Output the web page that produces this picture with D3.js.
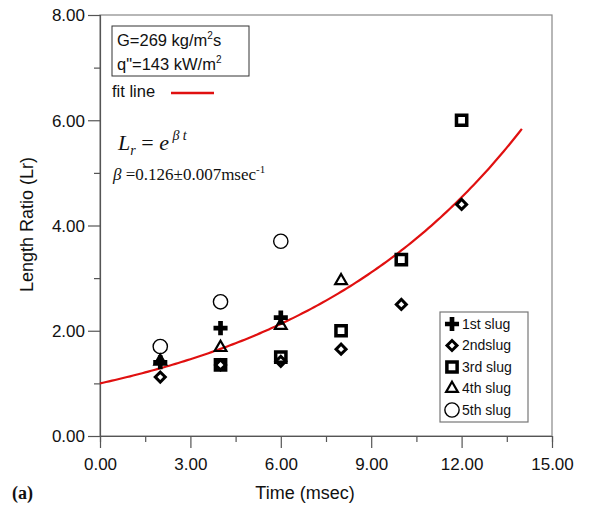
<!DOCTYPE html>
<html>
<head>
<meta charset="utf-8">
<script src="https://cdn.jsdelivr.net/npm/d3@7"></script>
<style>
  body { margin: 0; background: #fff; }
  text { font-family: "Liberation Sans", Arial, sans-serif; }
  .serif { font-family: "Liberation Serif", "Times New Roman", serif; }
</style>
</head>
<body>
<div id="graph"></div>
<script>
// data
const slugNames = ["1st slug", "2ndslug", "3rd slug", "4th slug", "5th slug"];
const slug1 = [[2, 1.40], [4, 2.05], [6, 2.25]];
const slug2 = [[2, 1.12], [4, 1.35], [6, 1.42], [8, 1.65], [10, 2.50], [12, 4.40]];
const slug3 = [[4, 1.35], [6, 1.50], [8, 2.00], [10, 3.35], [12, 6.00]];
const slug4 = [[2, 1.42], [4, 1.68], [6, 2.10], [8, 2.95]];
const slug5 = [[2, 1.70], [4, 2.55], [6, 3.70]];
const xTicks = [0, 3, 6, 9, 12, 15];
const yTicks = [0, 2, 4, 6, 8];
const beta = 0.126;
const fitEnd = 14;

const width = 589, height = 505;
const margin = {left: 100, right: 37, top: 15, bottom: 69};

const svg = d3.select('#graph').append('svg')
    .attr('width', width)
    .attr('height', height);

const x = d3.scaleLinear().domain([0, 15]).range([margin.left, width - margin.right]);
const y = d3.scaleLinear().domain([0, 8]).range([height - margin.bottom, margin.top]);

const axisColor = '#555';

// frame
svg.append('rect')
    .attr('x', x(0)).attr('y', y(8))
    .attr('width', x(15) - x(0)).attr('height', y(0) - y(8))
    .attr('fill', 'none').attr('stroke', '#888').attr('stroke-width', 1.2);

// x axis
const xAxis = svg.append('g')
    .attr('transform', 'translate(0,' + y(0) + ')')
    .call(d3.axisBottom(x).tickValues(d3.range(0, 15.01, 1.5)).tickSize(6)
        .tickFormat(() => ''));
xAxis.selectAll('.tick').filter(d => d % 3 === 0).select('line').attr('y2', 12);
xAxis.selectAll('.tick')
    .filter(d => xTicks.includes(d))
    .append('text')
    .attr('y', 34)
    .attr('fill', '#111')
    .attr('font-size', 17)
    .attr('text-anchor', 'middle')
    .text(d => d3.format('.2f')(d));

// y axis
const yAxis = svg.append('g')
    .attr('transform', 'translate(' + x(0) + ',0)')
    .call(d3.axisLeft(y).tickValues(d3.range(0, 8.01, 1)).tickSize(6)
        .tickFormat(() => ''));
yAxis.selectAll('.tick').filter(d => d % 2 === 0).select('line').attr('x2', -12);
yAxis.selectAll('.tick')
    .filter(d => yTicks.includes(d))
    .append('text')
    .attr('x', -15)
    .attr('dy', '0.35em')
    .attr('fill', '#111')
    .attr('font-size', 17)
    .attr('text-anchor', 'end')
    .text(d => d3.format('.2f')(d));

svg.selectAll('.domain, .tick line').attr('stroke', axisColor).attr('stroke-width', 1.2);

// axis titles
svg.append('text')
    .attr('transform', 'translate(33,' + (y(4) - 1) + ') rotate(-90)')
    .attr('text-anchor', 'middle')
    .attr('font-size', 18)
    .attr('fill', '#111')
    .text('Length Ratio (Lr)');
svg.append('text')
    .attr('x', 305)
    .attr('y', 499)
    .attr('text-anchor', 'middle')
    .attr('font-size', 18)
    .attr('fill', '#111')
    .text('Time (msec)');
svg.append('text')
    .attr('class', 'serif')
    .attr('x', 12).attr('y', 499)
    .attr('font-size', 18).attr('font-weight', 'bold')
    .attr('fill', '#111')
    .text('(a)');

// fit line
const fit = d3.range(0, fitEnd + 0.001, 0.1).map(t => [t, Math.exp(beta * t)]);
svg.append('path')
    .datum(fit)
    .attr('fill', 'none')
    .attr('stroke', '#e01010')
    .attr('stroke-width', 2.2)
    .attr('d', d3.line().x(d => x(d[0])).y(d => y(d[1])));

// markers
const symbols = [
    {type: d3.symbolCross, size: 110, fill: '#000', stroke: 'none', sw: 0},
    {type: d3.symbolSquare, size: 50, fill: 'none', stroke: '#000', sw: 3, rot: 45},
    {type: d3.symbolSquare, size: 105, fill: 'none', stroke: '#000', sw: 3.5},
    {type: d3.symbolTriangle, size: 60, fill: 'none', stroke: '#000', sw: 2.2},
    {type: d3.symbolCircle, size: 160, fill: 'none', stroke: '#000', sw: 1.4}
];
const allSlugs = [slug1, slug2, slug3, slug4, slug5];

function drawSymbol(g, s) {
    g.append('path')
        .attr('d', d3.symbol().type(s.type).size(s.size)())
        .attr('transform', s.rot ? 'rotate(' + s.rot + ')' : null)
        .attr('fill', s.fill)
        .attr('stroke', s.stroke)
        .attr('stroke-width', s.sw);
}

allSlugs.forEach((data, i) => {
    svg.append('g').selectAll('g')
        .data(data)
        .join('g')
        .attr('transform', d => 'translate(' + x(d[0]) + ',' + y(d[1]) + ')')
        .each(function() { drawSymbol(d3.select(this), symbols[i]); });
});

// annotation box
svg.append('rect')
    .attr('x', 112).attr('y', 26).attr('width', 137).attr('height', 50)
    .attr('fill', 'none').attr('stroke', '#333').attr('stroke-width', 1);
const t1 = svg.append('text').attr('x', 117).attr('y', 46).attr('font-size', 16.5).attr('fill', '#111');
t1.append('tspan').text('G=269 kg/m');
t1.append('tspan').attr('font-size', 10).attr('dy', -7).text('2');
t1.append('tspan').attr('dy', 7).text('s');
const t2 = svg.append('text').attr('x', 117).attr('y', 70).attr('font-size', 16.5).attr('fill', '#111');
t2.append('tspan').text('q"=143 kW/m');
t2.append('tspan').attr('font-size', 10).attr('dy', -7).text('2');

svg.append('text').attr('x', 112).attr('y', 97).attr('font-size', 16.5).attr('fill', '#111').text('fit line');
svg.append('line')
    .attr('x1', 171).attr('x2', 214).attr('y1', 93).attr('y2', 93)
    .attr('stroke', '#e01010').attr('stroke-width', 2.4);

// formula
const f1 = svg.append('text').attr('class', 'serif').attr('x', 118).attr('y', 150)
    .attr('font-size', 22).attr('fill', '#111');
f1.append('tspan').attr('font-style', 'italic').text('L');
f1.append('tspan').attr('font-style', 'italic').attr('font-size', 14).attr('dy', 5).text('r');
f1.append('tspan').attr('dy', -5).text(' = ');
f1.append('tspan').attr('font-style', 'italic').text('e');
f1.append('tspan').attr('font-style', 'italic').attr('font-size', 14).attr('dy', -10).text(' \u03B2 t');
const f2 = svg.append('text').attr('class', 'serif').attr('x', 113).attr('y', 180)
    .attr('font-size', 17).attr('fill', '#111');
f2.append('tspan').attr('font-style', 'italic').text('\u03B2');
f2.append('tspan').text(' =0.126\u00B10.007msec');
f2.append('tspan').attr('font-size', 11).attr('dy', -7).text('-1');

// legend
const legend = svg.append('g').attr('transform', 'translate(440,312)');
legend.append('rect')
    .attr('width', 88).attr('height', 110)
    .attr('fill', '#fff').attr('stroke', '#777').attr('stroke-width', 1.2);
slugNames.forEach((name, i) => {
    const row = legend.append('g').attr('transform', 'translate(12,' + (12 + i * 21.5) + ')');
    drawSymbol(row, symbols[i]);
    row.append('text').attr('x', 10).attr('dy', '0.35em')
        .attr('font-size', 14).attr('fill', '#111').text(name);
});
</script>
</body>
</html>
